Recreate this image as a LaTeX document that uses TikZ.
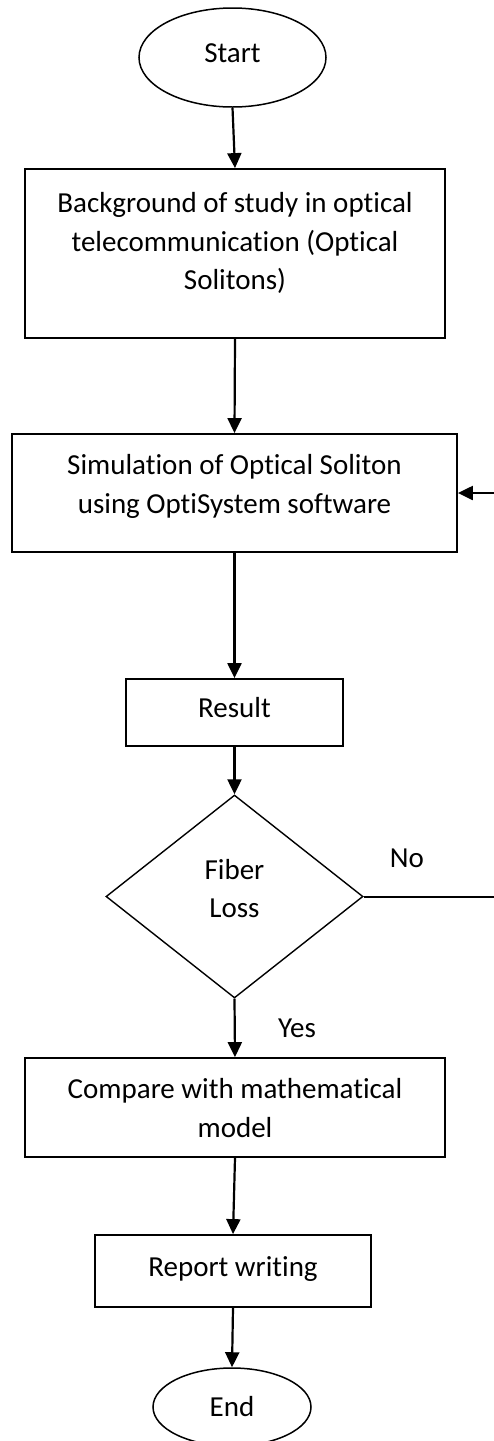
\documentclass[tikz,border=0pt]{standalone}
\usepackage{fontspec}
\setmainfont[Ligatures=NoCommon]{Carlito}
\usetikzlibrary{arrows.meta,shapes.geometric}
\begin{document}
\begin{tikzpicture}[x=1pt,y=1pt,
  every node/.style={font=\fontsize{29}{38.5}\selectfont},
  box/.style={draw, line width=1.8pt, inner sep=0pt},
  term/.style={draw, ellipse, line width=1.5pt, inner sep=0pt},
  decision/.style={draw, diamond, line width=1.4pt, inner sep=0pt},
  txt/.style={align=center, inner sep=0pt},
  flow/.style={line width=2.2pt, -{Triangle[length=15pt,width=14pt]}},
  plainline/.style={line width=2pt},
]
\useasboundingbox (0,0) rectangle (494,-1441);

% terminals, process boxes and the decision
\node[term, minimum width=187pt, minimum height=99pt, text height=19pt, text depth=10pt]
  (start) at (232.5,-57.5) {Start};
\node[box, minimum width=420pt, minimum height=169pt] (bg) at (235,-253.5) {};
\node[txt] (bgtext) at (235,-243) {Background of study in optical\\telecommunication (Optical\\Solitons)};
\node[box, minimum width=445pt, minimum height=118pt] (sim) at (234.5,-493) {};
\node[txt] (simtext) at (234.5,-486.5) {Simulation of Optical Soliton\\using OptiSystem software};
\node[box, minimum width=217pt, minimum height=67pt] (result) at (234.5,-712.5) {};
\node[txt] (resulttext) at (234.5,-708) {Result};
\node[decision, minimum width=257pt, minimum height=203pt] (loss) at (234.5,-896.5) {};
\node[txt] (losstext) at (234.5,-888.5) {Fiber\\Loss};
\node[box, minimum width=420pt, minimum height=99pt] (compare) at (235,-1107.5) {};
\node[txt] (comparetext) at (235,-1108) {Compare with mathematical\\model};
\node[box, minimum width=276pt, minimum height=72pt] (report) at (233,-1271) {};
\node[txt] (reporttext) at (233,-1269) {Report writing};
\node[term, minimum width=158pt, minimum height=78pt] (end) at (232,-1407) {End};

% branch labels
\node[txt] (nolabel) at (407,-858) {No};
\node[txt] (yeslabel) at (297,-1028) {Yes};

% main flow
\draw[flow] (start.south) -- (bg.north);
\draw[flow] (bg.south) -- (sim.north);
\draw[flow] (sim.south) -- (result.north);
\draw[flow] (result.south) -- (loss.north);
\draw[flow] (loss.south) -- (compare.north);
\draw[flow] (compare.south) -- (report.north);
\draw[flow] (report.south) -- (end.north);

% "No" branch loops back to the simulation step along the right edge
\coordinate (noturn) at (497,-896.5);
\coordinate (backturn) at (497,-493);
\draw[plainline] (loss.east) -- (noturn);
\draw[flow] (backturn) -- (sim.east);
\end{tikzpicture}
\end{document}
